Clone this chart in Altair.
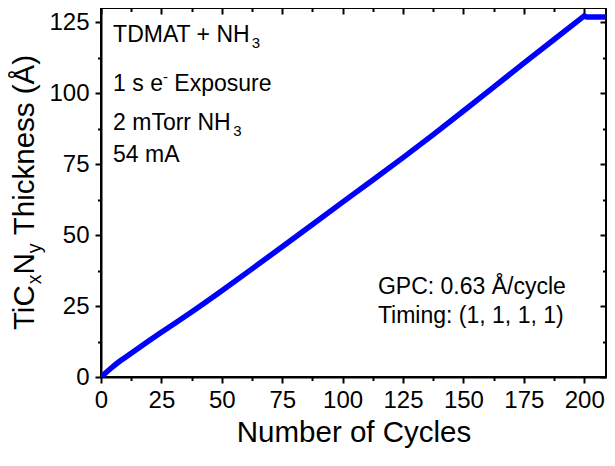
import altair as alt
import pandas as pd

# ---------------- data ----------------
cycles = [0, 2, 4, 6, 8, 10, 12.5, 15, 20, 25, 30, 37.5, 43, 50, 62.5, 75, 87.5,
          100, 112.5, 125, 137.5, 150, 162.5, 175, 187.5, 200, 201, 209]
thickness = [0, 1.5, 3.0, 4.4, 5.7, 6.9, 8.4, 9.9, 12.9, 15.8, 18.6, 22.9, 26.2, 30.4,
             38.1, 45.9, 53.7, 61.6, 69.4, 77.3, 85.4, 93.7, 102.1, 110.6, 118.9,
             127.2, 126.8, 126.8]

x_major = [0, 25, 50, 75, 100, 125, 150, 175, 200]
x_minor = [12.5, 37.5, 62.5, 87.5, 112.5, 137.5, 162.5, 187.5]
y_major = [0, 25, 50, 75, 100, 125]
y_minor = [12.5, 37.5, 62.5, 87.5, 112.5]

x_title = "Number of Cycles"
# y title pieces: (text, role)
y_title = [("TiC", "n"), ("x", "sub"), ("N", "n"), ("y", "sub"), (" Thickness (Å)", "n")]

annotation_lines = [
    [("TDMAT + NH", "n"), ("3", "sub")],
    [("1 s e", "n"), ("-", "sup"), (" Exposure", "n")],
    [("2 mTorr NH", "n"), ("3", "sub")],
    [("54 mA", "n")],
    [("GPC: 0.63 Å/cycle", "n")],
    [("Timing: (1, 1, 1, 1)", "n")],
]
# anchors (data units) of each annotation line
annotation_x = [5.0, 5.0, 5.0, 5.0, 114.6, 114.6]
annotation_y = [118.1, 100.7, 87.1, 75.6, 29.3, 19.0]

# ---------------- layout ----------------
X_DOMAIN = [0, 209]
Y_DOMAIN = [0, 130]
W, H = 505, 369
FONT = "Liberation Sans"
BLUE = "#0000FF"
Y_TITLE_BASELINE_PX = -66.7   # pixels left of the plot

px_x = (X_DOMAIN[1] - X_DOMAIN[0]) / W
px_y = (Y_DOMAIN[1] - Y_DOMAIN[0]) / H

ARIAL = {' ': 278, '(': 333, ')': 333, '+': 584, ',': 278, '-': 333, '.': 278, '/': 278,
         ':': 278, 'A': 667, 'C': 722, 'D': 722, 'E': 667, 'G': 778, 'H': 722, 'M': 833,
         'N': 722, 'P': 667, 'T': 611, 'Å': 667, 'a': 556, 'c': 500, 'e': 556, 'g': 556,
         'h': 556, 'i': 222, 'k': 500, 'l': 222, 'm': 833, 'n': 556, 'o': 556, 'p': 556,
         'r': 333, 's': 500, 'u': 556, 'x': 500, 'y': 500}


def text_width(s, size):
    return sum(ARIAL.get(c, 556) for c in s) * size / 1000.0


def split_spaces(txt):
    """leading spaces are collapsed by SVG: turn them into an offset instead"""
    stripped = txt.lstrip(" ")
    return stripped, len(txt) - len(stripped)


rows = []
# horizontal annotations
ANN, ANN_SMALL, SUB_SHIFT, SUP_SHIFT = 23, 15, 6, 9
for pieces, x0, y0 in zip(annotation_lines, annotation_x, annotation_y):
    cum = 0.0
    for txt, role in pieces:
        size = ANN if role == "n" else ANN_SMALL
        shift = 0 if role == "n" else (-SUB_SHIFT if role == "sub" else SUP_SHIFT)
        body, nsp = split_spaces(txt)
        cum += text_width(" " * nsp, size)
        rows.append({"tx": x0 + cum * px_x, "ty": y0 + shift * px_y,
                     "label": body, "fs": size, "ang": 0})
        cum += text_width(body, size)

# rotated y title, centred on the plot height
TT, TT_SMALL, TT_SHIFT = 29.5, 19.5, 7
total = sum(text_width(t, TT if r == "n" else TT_SMALL) for t, r in y_title)
y_start = (Y_DOMAIN[0] + Y_DOMAIN[1]) / 2 - total / 2 * px_y
x_base = X_DOMAIN[0] + Y_TITLE_BASELINE_PX * px_x
cum = 0.0
for txt, role in y_title:
    size = TT if role == "n" else TT_SMALL
    shift = 0 if role == "n" else TT_SHIFT
    body, nsp = split_spaces(txt)
    cum += text_width(" " * nsp, size)
    rows.append({"tx": x_base + shift * px_x, "ty": y_start + cum * px_y,
                 "label": body, "fs": size, "ang": 270})
    cum += text_width(body, size)

text_df = pd.DataFrame(rows)
line_df = pd.DataFrame({"cycles": cycles, "thickness": thickness})

xs = alt.Scale(domain=X_DOMAIN, nice=False, zero=False)
ys = alt.Scale(domain=Y_DOMAIN, nice=False, zero=False)

common_axis = dict(grid=False, tickWidth=2, tickColor="black", domainColor="black",
                   domainWidth=2, labelFont=FONT, titleFont=FONT, labelColor="black",
                   titleColor="black")


def ax(orient, values, size, offset=0, labels=False, domain=False, title=None, **kw):
    d = dict(common_axis)
    d.update(orient=orient, values=values, tickSize=size, labels=labels, domain=domain,
             offset=offset, title=title)
    d.update(kw)
    return alt.Axis(**d)


main = alt.Chart(line_df).mark_line(color=BLUE, strokeWidth=5.5, clip=True).encode(
    x=alt.X("cycles:Q", scale=xs,
            axis=ax("bottom", x_major, 6, labels=True, domain=True, title=x_title,
                    labelFontSize=24, labelPadding=5, labelFlush=False,
                    titleFontSize=29.5, titleFontWeight="normal",
                    titleBaseline="alphabetic", titleY=64)),
    y=alt.Y("thickness:Q", scale=ys,
            axis=ax("left", y_major, 6, labels=True, domain=True, title=None,
                    labelFontSize=24, labelPadding=6, labelFlush=False)),
)

minor_bl = alt.Chart(line_df).mark_line(strokeOpacity=0).encode(
    x=alt.X("cycles:Q", scale=xs, axis=ax("bottom", x_minor, 3.5)),
    y=alt.Y("thickness:Q", scale=ys, axis=ax("left", y_minor, 3.5)),
)

major_tr = alt.Chart(line_df).mark_line(strokeOpacity=0).encode(
    x=alt.X("cycles:Q", scale=xs, axis=ax("top", x_major, 6, offset=-6)),
    y=alt.Y("thickness:Q", scale=ys, axis=ax("right", y_major, 6, offset=-6)),
)

minor_tr = alt.Chart(line_df).mark_line(strokeOpacity=0).encode(
    x=alt.X("cycles:Q", scale=xs, axis=ax("top", x_minor, 3.5, offset=-3.5)),
    y=alt.Y("thickness:Q", scale=ys, axis=ax("right", y_minor, 3.5, offset=-3.5)),
)

texts = alt.Chart(text_df).mark_text(font=FONT, align="left", baseline="alphabetic",
                                     color="black").encode(
    x=alt.X("tx:Q", scale=xs, axis=None),
    y=alt.Y("ty:Q", scale=ys, axis=None),
    text="label:N",
    size=alt.Size("fs:Q", scale=None, legend=None),
    angle=alt.Angle("ang:Q", scale=None),
)

chart = alt.layer(main, minor_bl, major_tr, minor_tr, texts).resolve_axis(
    x="independent", y="independent"
).properties(
    width=W, height=H,
    autosize=alt.AutoSizeParams(type="none"),
    padding={"left": 93, "top": 0, "right": 1, "bottom": 72},
).configure_view(stroke="black", strokeWidth=2)

chart.save("out.html", embed_options={"renderer": "svg", "actions": False})
